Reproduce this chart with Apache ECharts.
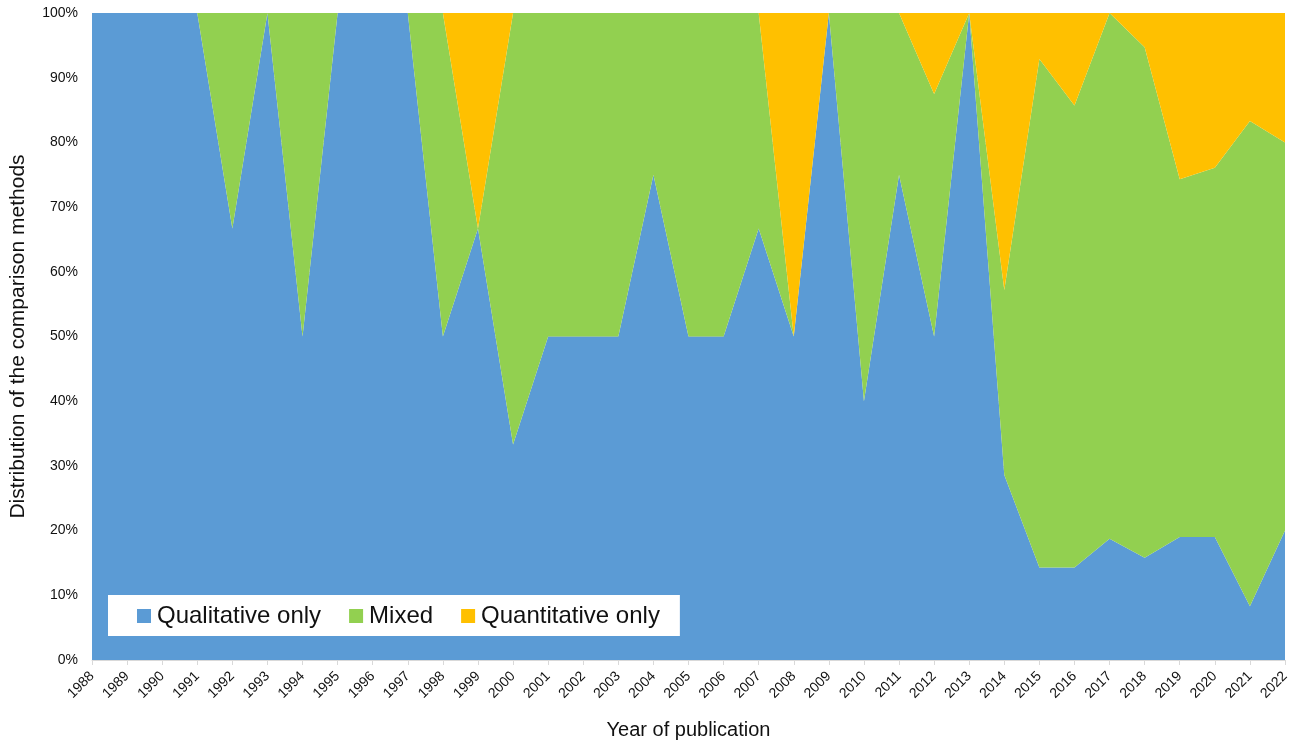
<!DOCTYPE html>
<html>
<head>
<meta charset="utf-8">
<script src="https://cdn.jsdelivr.net/npm/echarts@6/dist/echarts.min.js"></script>
<style>
html,body{margin:0;padding:0;background:#fff;}
#c{width:1297px;height:740px;}
</style>
</head>
<body>
<div id="c"></div>
<script>
const years = ['1988','1989','1990','1991','1992','1993','1994','1995','1996','1997','1998','1999','2000','2001','2002','2003','2004','2005','2006','2007','2008','2009','2010','2011','2012','2013','2014','2015','2016','2017','2018','2019','2020','2021','2022'];
const qualitative = [100,100,100,100,66.7,100,50,100,100,100,50,66.7,33.3,50,50,50,75,50,50,66.7,50,100,40,75,50,100,28.6,14.3,14.3,18.75,15.8,19.0,19.0,8.3,20];
const mixed = [0,0,0,0,33.3,0,50,0,0,0,50,0,66.7,50,50,50,25,50,50,33.3,0,0,60,25,37.5,0,28.6,78.6,71.4,81.25,78.9,55.3,57.1,75,60];
const quantitative = [0,0,0,0,0,0,0,0,0,0,0,33.3,0,0,0,0,0,0,0,0,50,0,0,0,12.5,0,42.8,7.1,14.3,0,5.3,25.7,23.9,16.7,20];
const yTicks = [0,10,20,30,40,50,60,70,80,90,100];

const FONT = '"Liberation Sans", Arial, sans-serif';
const chart = echarts.init(document.getElementById('c'), null, {renderer:'canvas'});
function areaSeries(name, data, color){
  return {
    name, type:'line', stack:'total', data,
    showSymbol:false, symbol:'none',
    lineStyle:{width:0}, areaStyle:{color, opacity:1},
    itemStyle:{color}, emphasis:{disabled:true}, animation:false
  };
}
chart.setOption({
  animation:false,
  textStyle:{fontFamily:FONT},
  grid:{left:92, right:12, top:13, bottom:80, containLabel:false, outerBoundsMode:'none'},
  legend:{
    left:108, top:595, backgroundColor:'#fff', padding:[9,20,8,29],
    itemWidth:14, itemHeight:14, itemGap:28, icon:'rect',
    textStyle:{fontSize:24, color:'#111', fontFamily:FONT, padding:[0,0,0,1]},
    data:['Qualitative only','Mixed','Quantitative only']
  },
  xAxis:{
    type:'category', data:years, boundaryGap:false,
    name:'Year of publication', nameLocation:'middle', nameGap:60,
    nameTextStyle:{fontSize:20, color:'#111', fontFamily:FONT},
    axisLine:{lineStyle:{color:'#D9D9D9'}},
    axisTick:{show:true, alignWithLabel:true, length:5, lineStyle:{color:'#D9D9D9'}},
    axisLabel:{rotate:45, fontSize:14, color:'#111', interval:0, margin:14}
  },
  yAxis:{
    type:'value', min:yTicks[0], max:yTicks[yTicks.length-1], interval:10,
    name:'Distribution of the comparison methods', nameLocation:'middle', nameGap:63,
    nameTextStyle:{fontSize:21, color:'#111', fontFamily:FONT},
    axisLine:{show:false}, axisTick:{show:false},
    splitLine:{lineStyle:{color:'#D9D9D9'}},
    axisLabel:{formatter:'{value}%', fontSize:14, color:'#111', margin:14}
  },
  series:[
    areaSeries('Qualitative only', qualitative, '#5B9BD5'),
    areaSeries('Mixed', mixed, '#92D050'),
    areaSeries('Quantitative only', quantitative, '#FFC000')
  ]
});
</script>
</body>
</html>
